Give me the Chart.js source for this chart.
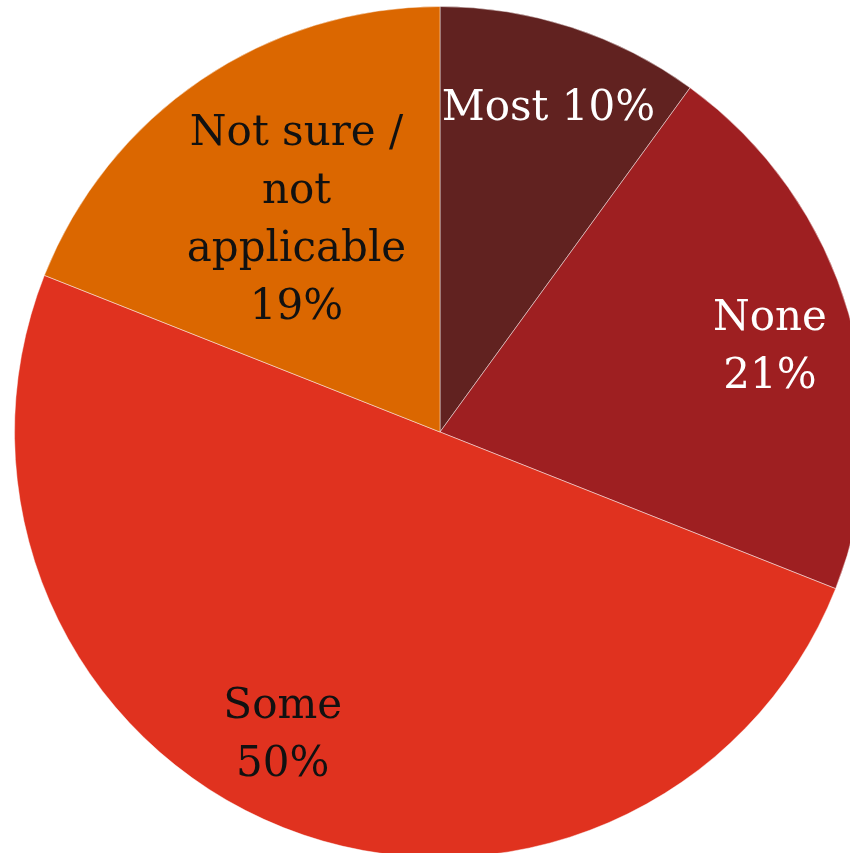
<!DOCTYPE html>
<html>
<head>
<meta charset="utf-8">
<script src="https://cdn.jsdelivr.net/npm/chart.js@4.4.1/dist/chart.umd.min.js"></script>
<style>
  html, body { margin: 0; padding: 0; background: #fff; overflow: hidden; }
  #wrap { position: absolute; left: 0; top: 0; width: 880px; height: 864px; }
</style>
</head>
<body>
<div id="wrap"><canvas id="pie"></canvas></div>
<script>
// Share of respondents per answer
const categories = ['Most', 'None', 'Some', 'Not sure / not applicable'];
const shares = [10, 21, 50, 19];
const labelLines = [
    ['Most 10%'],
    ['None', '21%'],
    ['Some', '50%'],
    ['Not sure /', 'not', 'applicable', '19%']
];

const sliceColors = ['#612220', '#9e1f21', '#e0321f', '#db6700'];
const textColors = ['#ffffff', '#ffffff', '#111111', '#111111'];
// where each label sits: fraction of radius and angle shift (radians)
const labelPlace = [
    { r: 0.80, shift: 0.01 },
    { r: 0.80, shift: 0.035 },
    { r: 0.805, shift: 0.10 },
    { r: 0.60, shift: 0.0 }
];

const sliceLabels = {
    id: 'sliceLabels',
    afterDatasetsDraw(chart) {
        const ctx = chart.ctx;
        const meta = chart.getDatasetMeta(0);
        ctx.save();
        ctx.font = '42px "DejaVu Serif", Georgia, serif';
        ctx.textAlign = 'center';
        ctx.textBaseline = 'middle';
        meta.data.forEach((arc, i) => {
            const p = arc.getProps(['x', 'y', 'startAngle', 'endAngle', 'outerRadius'], true);
            const mid = (p.startAngle + p.endAngle) / 2 + labelPlace[i].shift;
            const rad = p.outerRadius * labelPlace[i].r;
            const cx = p.x + Math.cos(mid) * rad;
            const cy = p.y + Math.sin(mid) * rad;
            const lines = labelLines[i];
            const lh = 58;
            ctx.fillStyle = textColors[i];
            lines.forEach((line, j) => {
                ctx.fillText(line, cx, cy + (j - (lines.length - 1) / 2) * lh);
            });
        });
        ctx.restore();
    }
};

new Chart(document.getElementById('pie'), {
    type: 'pie',
    data: {
        labels: categories,
        datasets: [{
            data: shares,
            backgroundColor: sliceColors,
            borderColor: 'rgba(255,255,255,0.45)',
            borderWidth: 1
        }]
    },
    options: {
        responsive: true,
        maintainAspectRatio: false,
        animation: false,
        layout: { padding: { left: 14, right: 14, top: 6, bottom: 6 } },
        plugins: {
            legend: { display: false },
            tooltip: { enabled: false }
        }
    },
    plugins: [sliceLabels]
});
</script>
</body>
</html>
